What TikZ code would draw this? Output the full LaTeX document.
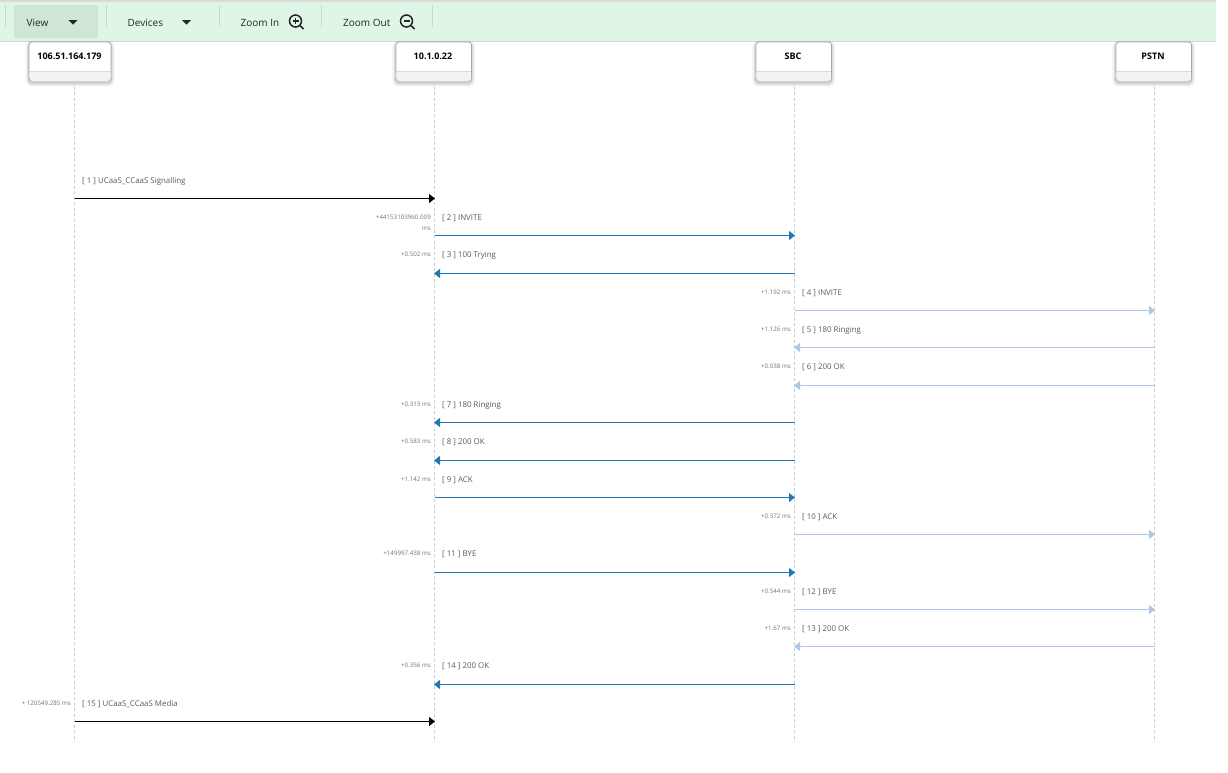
\documentclass[tikz,border=0pt]{standalone}
\usepackage{fontspec}
\setmainfont{Open Sans}
\usepackage{tikz}
\usetikzlibrary{arrows.meta}
\definecolor{barcolor}{HTML}{DFF6E6}
\definecolor{activecolor}{HTML}{CFE5D6}
\definecolor{sepcolor}{HTML}{C9D8CE}
\definecolor{sbcblue}{HTML}{1F77B4}
\definecolor{pstnblue}{HTML}{AEC7E8}
\tikzset{%
  x=1pt,y=-1pt,
  lifeline/.style = {draw=black!20,dashed,dash pattern=on 3pt off 2.5pt,line width=.7pt},
  device/.style = {rounded corners=3pt,draw=black!35,fill=white,line width=.7pt,
        minimum width=75.5pt,minimum height=39pt,
        preaction={draw=black,draw opacity=.05,line width=7pt,transform canvas={yshift=-2pt}},
        preaction={draw=black,draw opacity=.07,line width=4pt,transform canvas={yshift=-2pt}},
        preaction={draw=black,draw opacity=.09,line width=2pt,transform canvas={yshift=-1.5pt}}},
  devicename/.style = {font=\bfseries\fontsize{9}{10}\selectfont,text=black},
  toolitem/.style = {font=\fontsize{10}{11}\selectfont,text=black!85,anchor=west,inner sep=0pt},
  tooltip/.style = {fill=black!85,draw=none},
  toolsep/.style = {draw=sepcolor,line width=.7pt},
  icon/.style = {draw=black!85,line width=1.5pt},
  msg/.style = {font=\fontsize{7.9}{9}\selectfont,text=black!65,anchor=west,inner sep=0pt},
  delta/.style = {font=\fontsize{6.2}{7}\selectfont,text=black!55,anchor=east,inner sep=0pt,align=right},
  mediaarrow/.style = {draw=black,line width=1pt,-{Triangle[length=6pt,width=9pt,fill=black]},shorten >=-.5pt},
  sbcarrow/.style = {draw=sbcblue,line width=1pt,-{Triangle[length=6pt,width=9pt,fill=sbcblue]},shorten >=-.5pt},
  pstnarrow/.style = {draw=pstnblue,line width=1pt,-{Triangle[length=6pt,width=9pt,fill=pstnblue]},shorten >=-.5pt}
}
\begin{document}
\begin{tikzpicture}
                \useasboundingbox (0,0) rectangle (1228,772);
                % toolbar
                \fill[barcolor] (0,2) rectangle (1216,41);
                \draw[black!15,line width=2pt] (0,1) -- (1216,1);
                \draw[sepcolor,line width=.8pt] (0,41.5) -- (1216,41.5);
                \fill[activecolor,rounded corners=2pt] (14,5) rectangle (98,38);
                \draw[toolsep] (5.5,5) -- (5.5,27);
                \draw[toolsep] (106.5,5) -- (106.5,27);
                \draw[toolsep] (219.5,5) -- (219.5,27);
                \draw[toolsep] (321.5,5) -- (321.5,27);
                \draw[toolsep] (432.5,5) -- (432.5,27);
                \node[toolitem] (view) at (26.5,23) {View};
                \node[toolitem] (devices) at (127.5,23) {Devices};
                \node[toolitem] (zoomin) at (240.5,23) {Zoom In};
                \node[toolitem] (zoomout) at (343,23) {Zoom Out};
                \fill[tooltip] (68.5,20) -- (77.5,20) -- (73,24.5) -- cycle;
                \fill[tooltip] (182,20) -- (191,20) -- (186.5,24.5) -- cycle;
                \draw[icon] (295.5,21) circle (6);
                \draw[icon] (300,25.5) -- (303.5,29);
                \draw[icon,line width=1.2pt] (292.5,21) -- (298.5,21) (295.5,18) -- (295.5,24);
                \draw[icon] (406.5,21) circle (6);
                \draw[icon] (411,25.5) -- (414.5,29);
                \draw[icon,line width=1.2pt] (403.5,21) -- (409.5,21);

                % devices
                \coordinate (e1) at (74.5,742);
                \coordinate (e2) at (434.5,742);
                \coordinate (e3) at (794.5,742);
                \coordinate (e4) at (1154.5,742);
                \node[device,minimum width=82pt] (d1) at (70,61.5) {};
                \node[device] (d2) at (433.7,61.5) {};
                \node[device] (d3) at (793.7,61.5) {};
                \node[device] (d4) at (1153.7,61.5) {};
                \fill[black!5,rounded corners=3pt] (29.5,71.5) rectangle (110.5,81);
                \fill[black!5,rounded corners=3pt] (396.3,71.5) rectangle (471.1,81);
                \fill[black!5,rounded corners=3pt] (756.3,71.5) rectangle (831.1,81);
                \fill[black!5,rounded corners=3pt] (1116.3,71.5) rectangle (1191.1,81);
                \draw[black!15,line width=.7pt] (29.5,71) -- (110.5,71);
                \draw[black!15,line width=.7pt] (396.3,71) -- (471.1,71);
                \draw[black!15,line width=.7pt] (756.3,71) -- (831.1,71);
                \draw[black!15,line width=.7pt] (1116.3,71) -- (1191.1,71);
                \draw[lifeline] (d1.south -| e1) -- (e1);
                \draw[lifeline] (d2.south -| e2) -- (e2);
                \draw[lifeline] (d3.south -| e3) -- (e3);
                \draw[lifeline] (d4.south -| e4) -- (e4);
                \node[devicename] (n1) at (69.5,56) {106.51.164.179};
                \node[devicename] (n2) at (433,56) {10.1.0.22};
                \node[devicename] (n3) at (793,56) {SBC};
                \node[devicename] (n4) at (1153,56) {PSTN};

                % message ends
                \coordinate (a1) at (74.5,198.5);   \coordinate (b1) at (434.5,198.5);
                \coordinate (a2) at (434.5,235.5);  \coordinate (b2) at (794.5,235.5);
                \coordinate (a3) at (794.5,273.5);  \coordinate (b3) at (434.5,273.5);
                \coordinate (a4) at (794.5,310.5);  \coordinate (b4) at (1154.5,310.5);
                \coordinate (a5) at (1154.5,347.5); \coordinate (b5) at (794.5,347.5);
                \coordinate (a6) at (1154.5,385.5); \coordinate (b6) at (794.5,385.5);
                \coordinate (a7) at (794.5,422.5);  \coordinate (b7) at (434.5,422.5);
                \coordinate (a8) at (794.5,460.5);  \coordinate (b8) at (434.5,460.5);
                \coordinate (a9) at (434.5,497.5);  \coordinate (b9) at (794.5,497.5);
                \coordinate (a10) at (794.5,534.5); \coordinate (b10) at (1154.5,534.5);
                \coordinate (a11) at (434.5,572.5); \coordinate (b11) at (794.5,572.5);
                \coordinate (a12) at (794.5,609.5); \coordinate (b12) at (1154.5,609.5);
                \coordinate (a13) at (1154.5,646.5);\coordinate (b13) at (794.5,646.5);
                \coordinate (a14) at (794.5,684.5); \coordinate (b14) at (434.5,684.5);
                \coordinate (a15) at (74.5,721.5);  \coordinate (b15) at (434.5,721.5);

                \draw[mediaarrow] (a1) -- (b1);
                \draw[sbcarrow] (a2) -- (b2);
                \draw[sbcarrow] (a3) -- (b3);
                \draw[pstnarrow] (a4) -- (b4);
                \draw[pstnarrow] (a5) -- (b5);
                \draw[pstnarrow] (a6) -- (b6);
                \draw[sbcarrow] (a7) -- (b7);
                \draw[sbcarrow] (a8) -- (b8);
                \draw[sbcarrow] (a9) -- (b9);
                \draw[pstnarrow] (a10) -- (b10);
                \draw[sbcarrow] (a11) -- (b11);
                \draw[pstnarrow] (a12) -- (b12);
                \draw[pstnarrow] (a13) -- (b13);
                \draw[sbcarrow] (a14) -- (b14);
                \draw[mediaarrow] (a15) -- (b15);

                % labels
                \node[msg] (m1) at (82,181) {[ 1 ] UCaaS\_CCaaS Signalling};
                \node[msg] (m2) at (442,218) {[ 2 ] INVITE};
                \node[msg] (m3) at (442,255.5) {[ 3 ] 100 Trying};
                \node[msg] (m4) at (802,293) {[ 4 ] INVITE};
                \node[msg] (m5) at (802,330.5) {[ 5 ] 180 Ringing};
                \node[msg] (m6) at (802,367) {[ 6 ] 200 OK};
                \node[msg] (m7) at (442,405.5) {[ 7 ] 180 Ringing};
                \node[msg] (m8) at (442,442) {[ 8 ] 200 OK};
                \node[msg] (m9) at (442,480) {[ 9 ] ACK};
                \node[msg] (m10) at (802,517) {[ 10 ] ACK};
                \node[msg] (m11) at (442,554) {[ 11 ] BYE};
                \node[msg] (m12) at (802,592) {[ 12 ] BYE};
                \node[msg] (m13) at (802,629) {[ 13 ] 200 OK};
                \node[msg] (m14) at (442,666) {[ 14 ] 200 OK};
                \node[msg] (m15) at (82,704) {[ 15 ] UCaaS\_CCaaS Media};

                \node[delta] (t2) at (431,217) {+44153103960.009};
                \node[delta] (t2b) at (431,229) {ms};
                \node[delta] (t3) at (431,254) {+0.502 ms};
                \node[delta] (t4) at (791,292) {+1.192 ms};
                \node[delta] (t5) at (791,329) {+1.126 ms};
                \node[delta] (t6) at (791,366) {+0.038 ms};
                \node[delta] (t7) at (431,404) {+0.313 ms};
                \node[delta] (t8) at (431,441) {+0.583 ms};
                \node[delta] (t9) at (431,479) {+1.142 ms};
                \node[delta] (t10) at (791,516) {+0.372 ms};
                \node[delta] (t11) at (431,553) {+149997.438 ms};
                \node[delta] (t12) at (791,591) {+0.544 ms};
                \node[delta] (t13) at (791,628) {+1.67 ms};
                \node[delta] (t14) at (431,665) {+0.356 ms};
                \node[delta] (t15) at (71,703) {+ 120549.285 ms};
            \end{tikzpicture}
\end{document}
